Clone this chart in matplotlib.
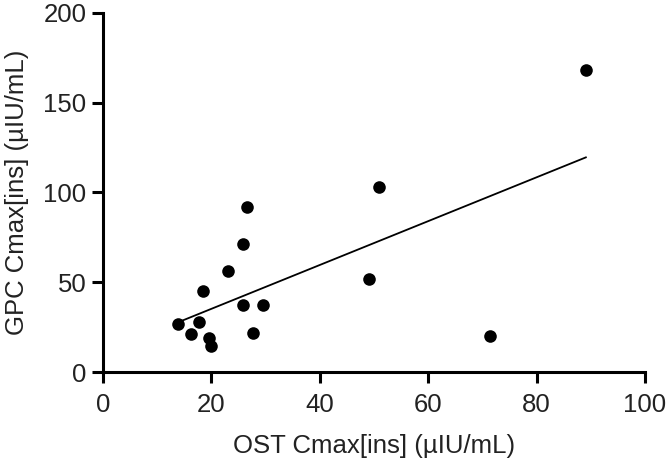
import matplotlib.pyplot as plt
import numpy as np

plt.rcParams['font.family'] = ['Liberation Sans', 'DejaVu Sans']

# OST vs GPC Cmax[ins] values
ost = np.array([26.6, 25.9, 23.0, 18.4, 25.9, 29.6, 13.8, 17.8, 16.2,
                19.5, 20.0, 27.7, 51.0, 49.1, 71.4, 89.1])
gpc = np.array([92.0, 71.2, 56.4, 45.1, 37.7, 37.3, 27.1, 28.0, 21.5,
                19.1, 14.6, 22.1, 102.8, 51.8, 20.0, 168.0])

fig = plt.figure(figsize=(6.69, 4.66), dpi=100)
ax = fig.add_axes([0.154, 0.201, 0.81, 0.772])

ax.scatter(ost, gpc, s=82, color='black', zorder=3, clip_on=False, linewidths=0)

# linear regression line across the data range
slope, intercept = np.polyfit(ost, gpc, 1)
xs = np.array([ost.min(), ost.max()])
ax.plot(xs, slope * xs + intercept, color='black', lw=1.3)

ax.set_xlim(0, 100)
ax.set_ylim(0, 200)
ax.set_xticks([0, 20, 40, 60, 80, 100])
ax.set_yticks([0, 50, 100, 150, 200])

for s in ['top', 'right']:
    ax.spines[s].set_visible(False)
for s in ['left', 'bottom']:
    ax.spines[s].set_linewidth(2.2)
ax.tick_params(width=2.2, length=8, labelsize=18.5, colors='black', labelcolor='#222222')
ax.tick_params(axis='x', pad=7)
ax.tick_params(axis='y', pad=4)

ax.set_xlabel('OST Cmax[ins] (µIU/mL)', fontsize=18.5, color='#222222', labelpad=12)
ax.set_ylabel('GPC Cmax[ins] (µIU/mL)', fontsize=18.5, color='#222222', labelpad=10)

fig.savefig('out.png', dpi=100)
